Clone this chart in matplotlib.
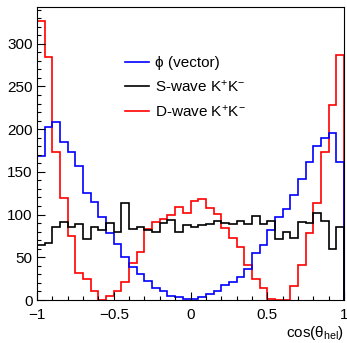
import numpy as np
import matplotlib
matplotlib.use("Agg")
import matplotlib.pyplot as plt
from matplotlib.ticker import MultipleLocator

plt.rcParams['font.family'] = ['Liberation Sans', 'DejaVu Sans']
plt.rcParams['mathtext.fontset'] = 'custom'
plt.rcParams['mathtext.rm'] = 'Liberation Sans'
plt.rcParams['mathtext.it'] = 'Liberation Sans'
plt.rcParams['mathtext.bf'] = 'Liberation Sans:bold'

# 40 bins on cos(theta_hel) in [-1, 1]
bin_edges = np.linspace(-1.0, 1.0, 41)

vector_phi = [169, 202, 208, 185, 173, 157, 125, 115, 97, 79,
              66, 50, 39, 30, 22, 14, 10, 5, 3, 1,
              1, 4, 7, 10, 17, 21, 27, 36, 55, 64,
              82, 97, 106, 123, 142, 162, 180, 190, 195, 161]

s_wave = [64, 67, 85, 91, 86, 89, 71, 86, 82, 90,
          80, 114, 83, 86, 82, 80, 90, 94, 80, 88,
          86, 88, 89, 93, 90, 89, 93, 89, 98, 89,
          93, 71, 80, 72, 91, 90, 102, 93, 60, 86]

d_wave = [327, 284, 173, 119, 75, 32, 25, 10, 0, 5,
          11, 21, 43, 56, 83, 91, 95, 99, 109, 102,
          116, 118, 108, 101, 84, 73, 62, 41, 25, 14,
          1, 0, 0, 16, 41, 78, 113, 173, 228, 287]

labels = [r'ϕ (vector)', r'S-wave K$^{+}$K$^{-}$', r'D-wave K$^{+}$K$^{-}$']

W, H = 347, 343
fig = plt.figure(figsize=(W / 100, H / 100), dpi=100)
ax = fig.add_axes([37 / W, (H - 300) / H, 307 / W, 293 / H])

h_red = ax.stairs(d_wave, bin_edges, baseline=0, color='#ff0000', lw=1.2)
h_blue = ax.stairs(vector_phi, bin_edges, baseline=0, color='#0000ff', lw=1.2)
h_black = ax.stairs(s_wave, bin_edges, baseline=0, color='black', lw=1.2)

ax.set_xlim(-1, 1)
ax.set_ylim(0, 343)

ax.xaxis.set_major_locator(MultipleLocator(0.5))
ax.xaxis.set_minor_locator(MultipleLocator(0.1))
ax.yaxis.set_major_locator(MultipleLocator(50))
ax.yaxis.set_minor_locator(MultipleLocator(10))
ax.set_xticks([-1, -0.5, 0, 0.5, 1])
ax.set_xticklabels(['\u22121', '\u22120.5', '0', '0.5', '1'])

ax.tick_params(which='both', direction='in', top=False, right=False,
               labelsize=11, color='black')
ax.tick_params(which='major', length=6, width=0.8)
ax.tick_params(which='minor', length=3, width=0.8)
ax.tick_params(axis='y', pad=3)
ax.tick_params(axis='x', pad=5.5)

for sp in ax.spines.values():
    sp.set_linewidth(0.8)
    sp.set_color('black')

ax.set_xlabel(r'cos($\theta_{hel}$)', loc='right', fontsize=11, labelpad=2)

leg = ax.legend([h_blue, h_black, h_red], labels,
                loc='upper left', bbox_to_anchor=((125 - 37) / 307, 1 - (56 - 7) / 293),
                frameon=False, fontsize=11, handlelength=1.57,
                handletextpad=0.4, labelspacing=0.56, borderpad=0,
                borderaxespad=0)
for line in leg.get_lines():
    line.set_linewidth(1.2)

fig.savefig('out.png', dpi=100)
